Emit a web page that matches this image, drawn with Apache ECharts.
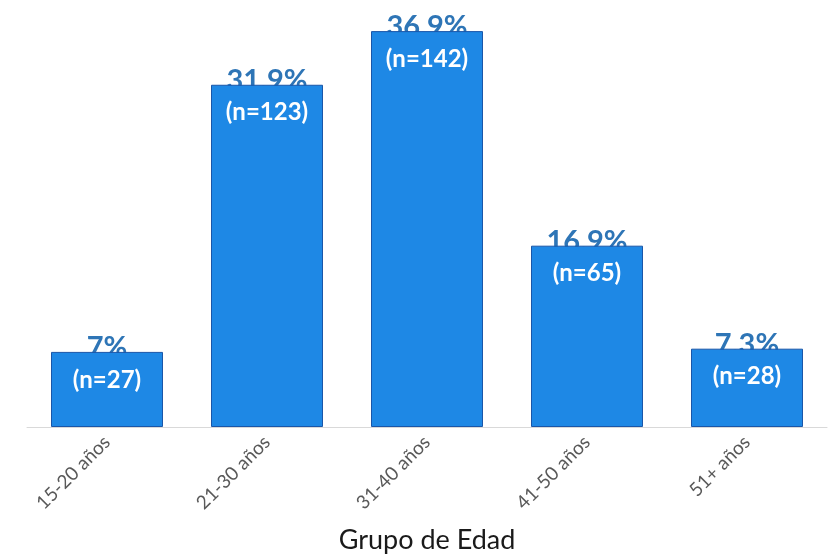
<!DOCTYPE html>
<html>
<head>
<meta charset="utf-8">
<script src="https://cdn.jsdelivr.net/npm/echarts@6/dist/echarts.min.js"></script>
<style>
  html, body { margin: 0; padding: 0; background: #fff; }
  #chart { width: 828px; height: 556px; }
</style>
</head>
<body>
<div id="chart"></div>
<script>
// Distribución por grupo de edad
const categories = ['15-20 años', '21-30 años', '31-40 años', '41-50 años', '51+ años'];
const percentages = [7, 31.9, 36.9, 16.9, 7.3];
const counts = [27, 123, 142, 65, 28];
const pctLabels = ['7%', '31.9%', '36.9%', '16.9%', '7.3%'];

const myChart = echarts.init(document.getElementById('chart'));

myChart.setOption({
    animation: false,
    grid: {
        left: 27,
        right: 1,
        top: 0,
        bottom: 129,
        containLabel: false,
        outerBoundsMode: 'none',
    },
    xAxis: {
        type: 'category',
        data: categories,
        name: 'Grupo de Edad',
        nameLocation: 'middle',
        nameGap: 100,
        nameTextStyle: {
            fontFamily: 'Lato',
            fontSize: 27,
            color: '#1a1a1a',
            verticalAlign: 'top',
        },
        axisLine: { lineStyle: { color: '#d9d9d9', width: 1 } },
        axisTick: { show: false },
        axisLabel: {
            rotate: 45,
            margin: 12,
            fontFamily: 'Lato',
            fontSize: 19,
            color: '#595959',
        },
    },
    yAxis: {
        type: 'value',
        min: 0,
        max: 39.8,
        show: false,
        splitLine: { show: false },
    },
    series: [
        {
            // porcentajes (detrás de las barras)
            type: 'bar',
            z: 1,
            barWidth: '70%',
            data: percentages,
            itemStyle: { color: 'rgba(0,0,0,0)' },
            label: {
                show: true,
                position: 'top',
                distance: -10,
                formatter: (p) => pctLabels[p.dataIndex],
                fontFamily: 'Lato',
                fontWeight: 'bold',
                fontSize: 29,
                color: '#2e75b6',
            },
        },
        {
            type: 'bar',
            z: 2,
            barWidth: '70%',
            barGap: '-100%',
            data: percentages,
            itemStyle: {
                color: '#1e88e5',
                borderColor: '#1a56a8',
                borderWidth: 1,
            },
            label: {
                show: true,
                position: 'insideTop',
                distance: 16,
                formatter: (p) => `(n=${counts[p.dataIndex]})`,
                fontFamily: 'Lato',
                fontWeight: 'bold',
                fontSize: 24,
                color: '#ffffff',
            },
        },
    ],
});
</script>
</body>
</html>
